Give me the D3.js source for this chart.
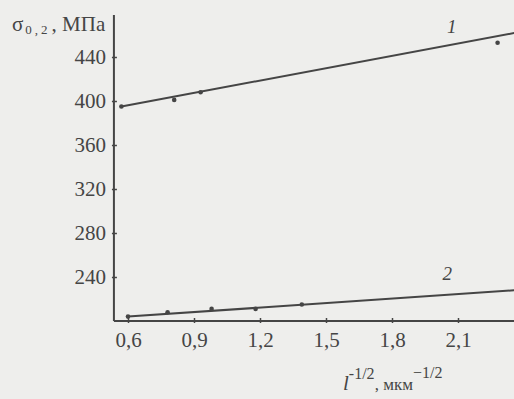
<!DOCTYPE html>
<html>
<head>
<meta charset="utf-8">
<script src="https://cdn.jsdelivr.net/npm/d3@7"></script>
<style>
  body { margin: 0; background: #eeeeec; }
  svg { display: block; }
  text { font-family: "Liberation Serif", "DejaVu Serif", serif; fill: #454545; }
</style>
</head>
<body>
<div id="chart"></div>
<script>
// x ticks (l^-1/2, мкм^-1/2) and y ticks (σ0,2, МПа)
const xTicks = [0.6, 0.9, 1.2, 1.5, 1.8, 2.1];
const yTicks = [240, 280, 320, 360, 400, 440];

const pointsX1 = [0.57, 0.81, 0.93, 2.28];
const pointsY1 = [395, 401, 408, 453];
const pointsX2 = [0.60, 0.78, 0.98, 1.18, 1.39];
const pointsY2 = [204, 208, 211, 211, 215];

// fitted straight lines (ends)
const lineX1 = [0.57, 2.36];
const lineY1 = [395, 462];
const lineX2 = [0.60, 2.36];
const lineY2 = [204, 228];

const width = 514, height = 399;

const svg = d3.select("#chart").append("svg")
    .attr("width", width)
    .attr("height", height);

// scales
const x = d3.scaleLinear().domain([0.6, 2.1]).range([128, 458]);
const y = d3.scaleLinear().domain([200, 440]).range([321, 57]);

const ink = "#454545";

// y axis
const yAxis = d3.axisLeft(y).tickValues(yTicks).tickSize(0).tickPadding(8);
const gy = svg.append("g")
    .attr("transform", "translate(" + x(0.536) + ",0)")
    .call(yAxis);
gy.select(".domain").remove();
gy.append("line")
    .attr("y1", 15).attr("y2", y(200))
    .attr("stroke", ink).attr("stroke-width", 2);
gy.selectAll(".tick line").remove();
gy.selectAll(".tick").append("line")
    .attr("x1", -2).attr("x2", 3)
    .attr("stroke", ink).attr("stroke-width", 1.5);
gy.selectAll(".tick text")
    .attr("font-size", 21)
    .attr("fill", ink)
    .attr("font-family", "Liberation Serif, serif");

// x axis
const xAxis = d3.axisBottom(x).tickValues(xTicks).tickSize(0).tickPadding(9)
    .tickFormat(d => d3.format(".1f")(d).replace(".", ","));
const gx = svg.append("g")
    .attr("transform", "translate(0," + y(200) + ")")
    .call(xAxis);
gx.select(".domain").remove();
gx.append("line")
    .attr("x1", x(0.536)).attr("x2", width)
    .attr("stroke", ink).attr("stroke-width", 2);
gx.selectAll(".tick line").remove();
gx.selectAll(".tick").append("line")
    .attr("y1", -3).attr("y2", 2)
    .attr("stroke", ink).attr("stroke-width", 1.5);
gx.selectAll(".tick text")
    .attr("font-size", 21)
    .attr("fill", ink)
    .attr("font-family", "Liberation Serif, serif")
    .attr("dy", "0.8em");

// fitted lines
const line = d3.line().x(d => x(d[0])).y(d => y(d[1]));
const series = [
    {lx: lineX1, ly: lineY1, px: pointsX1, py: pointsY1, label: "1", lab: [2.05, 462]},
    {lx: lineX2, ly: lineY2, px: pointsX2, py: pointsY2, label: "2", lab: [2.03, 237]}
];

series.forEach(s => {
    svg.append("path")
        .datum(d3.zip(s.lx, s.ly))
        .attr("d", line)
        .attr("fill", "none")
        .attr("stroke", ink)
        .attr("stroke-width", 2);

    svg.selectAll(null)
        .data(d3.zip(s.px, s.py))
        .enter()
        .append("circle")
        .attr("cx", d => x(d[0]))
        .attr("cy", d => y(d[1]))
        .attr("r", 2.3)
        .attr("fill", ink);

    svg.append("text")
        .attr("x", x(s.lab[0]))
        .attr("y", y(s.lab[1]))
        .attr("font-size", 19)
        .attr("font-style", "italic")
        .text(s.label);
});

// y title
const yTitle = svg.append("text")
    .attr("x", 12)
    .attr("y", 31)
    .attr("font-size", 21);
yTitle.append("tspan").text("σ");
yTitle.append("tspan").attr("font-size", 13).attr("dy", 3).attr("dx", 2)
    .attr("letter-spacing", 3).text("0,2");
yTitle.append("tspan").attr("dy", -3).attr("dx", 1).text(", МПа");

// x title
const xTitle = svg.append("text")
    .attr("x", 343)
    .attr("y", 390)
    .attr("font-size", 21);
xTitle.append("tspan").attr("font-style", "italic").text("l");
xTitle.append("tspan").attr("font-size", 16).attr("dy", -11).text("-1/2");
xTitle.append("tspan").attr("font-size", 17).attr("dy", 11).text(", мкм");
xTitle.append("tspan").attr("font-size", 16).attr("dy", -12).text("−1/2");
</script>
</body>
</html>
